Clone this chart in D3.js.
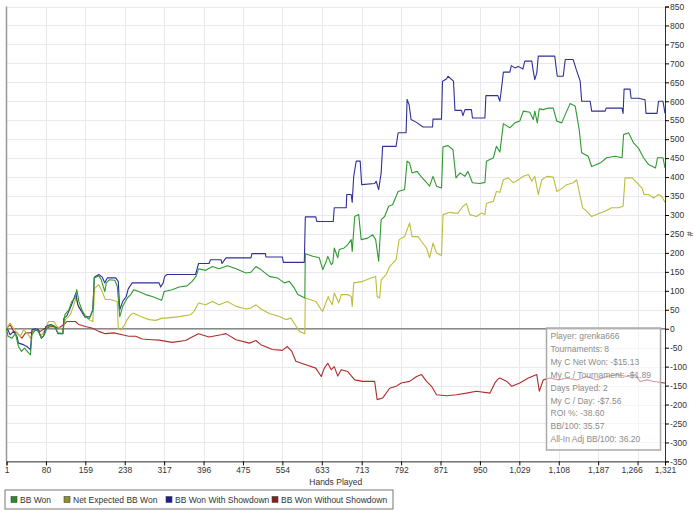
<!DOCTYPE html>
<meta charset="utf-8">
<script src="https://d3js.org/d3.v7.min.js"></script>
<style>
  body { margin: 0; background: #fff; }
  text { font-family: "Liberation Sans", Arial, sans-serif; }
</style>
<div id="my_dataviz"></div>
<script>

// x ticks (hands) and y ticks
var handTicks = [1, 80, 159, 238, 317, 396, 475, 554, 633, 713, 792, 871, 950, 1029, 1108, 1187, 1266, 1321];
var yTicks = d3.range(-350, 851, 50);

var seriesNames = ["BB Won", "Net Expected BB Won", "BB Won With Showdown", "BB Won Without Showdown"];

// [hand, bb]
var bbWon = [[1,0],[4,-20],[12,-25],[19,-13],[25,-47],[31,-60],[37,-51],[44,-62],[49,-69],[52,-16],[59,-3],[65,-7],[71,-25],[77,-16],[82,2],[91,11],[98,6],[104,-11],[114,-13],[118,37],[126,50],[132,72],[138,81],[142,103],[146,72],[152,50],[159,31],[167,26],[174,50],[177,134],[186,140],[191,129],[198,98],[201,121],[207,129],[218,128],[223,112],[228,32],[234,59],[243,81],[250,90],[256,103],[266,98],[280,90],[293,85],[307,78],[312,75],[317,98],[333,103],[347,110],[363,113],[373,125],[381,138],[386,158],[400,154],[414,164],[427,158],[444,166],[461,158],[481,147],[491,149],[501,164],[511,156],[528,138],[544,134],[558,121],[568,125],[578,107],[585,90],[595,84],[599,81],[600,198],[615,191],[628,187],[635,156],[642,178],[645,191],[652,169],[655,173],[658,213],[665,187],[668,209],[678,213],[685,222],[692,235],[694,204],[699,296],[707,301],[712,235],[725,239],[735,248],[741,235],[747,178],[752,288],[759,296],[767,323],[775,327],[786,362],[799,367],[804,442],[809,437],[814,411],[824,415],[833,400],[841,389],[849,376],[856,402],[863,376],[873,371],[876,480],[886,483],[896,472],[902,398],[910,411],[920,402],[926,415],[935,385],[950,383],[960,386],[963,442],[977,451],[983,481],[990,466],[997,541],[1010,530],[1020,543],[1030,548],[1037,574],[1050,571],[1057,552],[1060,574],[1065,543],[1069,580],[1077,578],[1087,582],[1097,582],[1104,548],[1114,543],[1124,574],[1131,594],[1141,587],[1149,525],[1154,464],[1167,455],[1174,428],[1191,437],[1204,451],[1221,455],[1235,451],[1238,512],[1248,517],[1258,490],[1268,476],[1278,451],[1288,433],[1302,424],[1306,451],[1317,451],[1321,424]];

var netExpected = [[1,0],[8,15],[15,2],[22,-11],[29,-20],[35,-3],[42,-11],[49,-25],[55,-3],[62,-3],[69,-20],[79,-3],[85,19],[96,19],[102,6],[114,-3],[119,24],[129,37],[136,63],[140,81],[146,55],[156,41],[166,24],[174,19],[178,107],[186,116],[193,98],[199,77],[209,77],[223,72],[225,0],[230,-3],[236,6],[243,24],[250,37],[256,41],[270,32],[287,24],[300,22],[313,28],[320,28],[347,32],[370,37],[377,46],[386,68],[400,63],[414,72],[427,63],[444,72],[461,59],[481,52],[491,55],[501,63],[511,52],[528,40],[548,32],[561,24],[571,28],[581,8],[588,-7],[599,-13],[600,81],[621,72],[632,50],[635,46],[642,72],[646,85],[648,77],[654,63],[658,94],[667,68],[672,90],[685,90],[692,85],[694,59],[697,121],[715,125],[732,134],[741,138],[744,85],[749,81],[752,129],[762,143],[769,164],[782,182],[788,235],[799,243],[809,279],[814,243],[826,243],[833,230],[843,213],[849,187],[856,226],[863,200],[873,193],[876,301],[890,307],[900,305],[906,305],[916,323],[923,330],[930,301],[943,296],[953,305],[960,301],[963,331],[977,336],[983,362],[990,360],[997,393],[1007,398],[1017,385],[1027,393],[1037,402],[1047,407],[1054,389],[1060,402],[1067,354],[1074,393],[1084,402],[1097,400],[1104,362],[1111,367],[1124,380],[1137,385],[1144,393],[1151,349],[1156,319],[1164,310],[1174,296],[1188,304],[1201,310],[1214,319],[1228,319],[1237,323],[1241,398],[1255,398],[1265,385],[1275,371],[1279,354],[1288,354],[1298,345],[1308,354],[1315,349],[1321,333]];

var withShowdown = [[1,0],[4,-3],[8,-16],[15,-7],[22,-20],[25,-38],[35,-42],[42,-47],[49,-55],[52,-3],[59,0],[65,-3],[71,-25],[75,-20],[80,6],[89,11],[98,6],[104,-13],[114,-13],[116,28],[122,34],[129,55],[134,72],[140,94],[144,63],[151,46],[158,31],[169,32],[174,50],[177,136],[186,143],[193,136],[198,121],[203,134],[220,134],[225,125],[228,50],[234,72],[241,85],[245,105],[253,121],[307,121],[310,110],[315,121],[318,138],[323,143],[380,143],[386,172],[407,172],[410,182],[431,182],[433,172],[441,187],[491,187],[493,198],[520,198],[521,189],[554,189],[556,175],[598,175],[600,295],[621,295],[623,283],[656,283],[658,319],[682,319],[683,354],[692,354],[694,333],[697,402],[702,442],[710,442],[713,380],[739,383],[742,389],[747,367],[752,411],[755,481],[782,481],[786,517],[802,517],[804,605],[808,591],[812,552],[822,545],[836,532],[855,532],[856,553],[873,553],[875,653],[883,659],[886,666],[897,653],[900,576],[913,576],[916,562],[920,578],[933,578],[935,556],[960,556],[962,615],[986,615],[990,600],[993,631],[997,677],[1010,677],[1013,694],[1020,688],[1027,692],[1036,685],[1040,706],[1054,706],[1057,679],[1060,657],[1064,675],[1067,719],[1100,719],[1105,666],[1117,666],[1121,710],[1137,710],[1143,684],[1151,653],[1154,600],[1171,600],[1174,574],[1201,574],[1203,582],[1235,582],[1237,568],[1239,632],[1251,632],[1253,608],[1268,608],[1281,604],[1283,568],[1305,568],[1308,600],[1317,600],[1321,568]];

var withoutShowdown = [[1,0],[8,11],[15,-7],[22,-11],[32,-25],[39,-11],[49,-11],[59,-3],[69,-7],[79,2],[92,6],[106,2],[116,11],[122,19],[139,19],[146,11],[159,6],[172,2],[186,-7],[199,-13],[216,-11],[233,-16],[246,-20],[260,-20],[273,-27],[293,-29],[307,-30],[333,-36],[360,-31],[373,-22],[386,-13],[407,-22],[431,-16],[441,-13],[461,-29],[488,-38],[501,-31],[511,-42],[534,-55],[554,-57],[564,-47],[573,-60],[581,-86],[601,-95],[621,-104],[632,-126],[638,-104],[645,-91],[652,-108],[658,-100],[665,-125],[672,-108],[685,-113],[699,-135],[715,-139],[739,-139],[744,-187],[755,-183],[769,-157],[782,-152],[792,-143],[809,-139],[823,-126],[833,-121],[843,-139],[853,-152],[863,-174],[883,-177],[903,-174],[923,-170],[943,-165],[970,-170],[980,-143],[986,-133],[990,-130],[1004,-139],[1014,-152],[1030,-143],[1047,-130],[1064,-121],[1069,-165],[1077,-135],[1090,-130],[1107,-135],[1124,-130],[1144,-135],[1164,-126],[1184,-135],[1204,-126],[1225,-121],[1245,-126],[1261,-121],[1271,-139],[1285,-135],[1298,-139],[1319,-143],[1321,-143]];

var statLines = ["Player: grenka666", "Tournaments: 8", "My C Net Won: -$15.13", "My C / Tournament: -$1.89",
                 "Days Played: 2", "My C / Day: -$7.56", "ROI %: -38.60", "BB/100: 35.57", "All-In Adj BB/100: 36.20"];

var lineColors = ["#2f9a2f", "#bdbd3a", "#30309a", "#b02c2c"];
var keyColors = ["#2a8a2a", "#8e8e2a", "#1c1c8a", "#8a1c1c"];

var W = 700, H = 514;
var plot = {left: 6.5, right: 665, top: 6.5, bottom: 461.4};

var svg = d3.select("#my_dataviz")
  .append("svg")
    .attr("width", W)
    .attr("height", H)
    .style("display", "block");

svg.append("rect").attr("width", W).attr("height", H).attr("fill", "#fff");

var x = d3.scaleLinear().domain([1, 1321]).range([plot.left, plot.right]);
var y = d3.scaleLinear().domain([-350, 850]).range([plot.bottom, plot.top]);

// grid
svg.append("g").selectAll("line").data(yTicks).enter().append("line")
    .attr("x1", plot.left).attr("x2", plot.right)
    .attr("y1", function(d) { return Math.round(y(d)) + 0.5; })
    .attr("y2", function(d) { return Math.round(y(d)) + 0.5; })
    .attr("stroke", "#e8e8ee");
svg.append("g").selectAll("line").data(handTicks.slice(1, -1)).enter().append("line")
    .attr("y1", plot.top).attr("y2", plot.bottom)
    .attr("x1", function(d) { return Math.round(x(d)) + 0.5; })
    .attr("x2", function(d) { return Math.round(x(d)) + 0.5; })
    .attr("stroke", "#e8e8ee");

// left border
svg.append("line")
    .attr("x1", plot.left).attr("x2", plot.left)
    .attr("y1", plot.top).attr("y2", plot.bottom)
    .attr("stroke", "#999").attr("stroke-width", 1.5);

// zero line
svg.append("line")
    .attr("x1", plot.left).attr("x2", plot.right)
    .attr("y1", y(0)).attr("y2", y(0))
    .attr("stroke", "#8a8a8a").attr("stroke-width", 1.6);

var line = d3.line()
    .x(function(d) { return x(d[0]); })
    .y(function(d) { return y(d[1]); });

var allSeries = [bbWon, netExpected, withShowdown, withoutShowdown];
var drawOrder = [3, 1, 2, 0];
drawOrder.forEach(function(i) {
  svg.append("path")
      .datum(allSeries[i])
      .attr("fill", "none")
      .attr("stroke", lineColors[i])
      .attr("stroke-width", 1.1)
      .attr("stroke-linejoin", "round")
      .attr("d", line);
});

// stats box
var box = svg.append("g").attr("transform", "translate(546.5,328)");
box.append("rect")
    .attr("width", 114).attr("height", 122)
    .attr("fill", "#fff").attr("fill-opacity", 0.55)
    .attr("stroke", "#aaa").attr("stroke-width", 1.5);
box.selectAll("text").data(statLines).enter().append("text")
    .attr("x", 4)
    .attr("y", function(d, i) { return 11 + i * 12.9; })
    .attr("fill", "#8c8c8c")
    .style("font-size", "8.5px")
    .text(function(d) { return d; });

// right axis
var yAxis = svg.append("g")
    .attr("transform", "translate(" + plot.right + ",0)")
    .call(d3.axisRight(y).tickValues(yTicks).tickSize(4).tickFormat(function(d) { return String(d); }));
yAxis.select(".domain").attr("stroke", "#333");
yAxis.selectAll("text").style("font-size", "8.5px").attr("fill", "#333").attr("x", 5);

svg.append("text")
    .attr("transform", "translate(693," + ((plot.top + plot.bottom) / 2) + ") rotate(-90)")
    .attr("text-anchor", "middle")
    .style("font-size", "8.5px")
    .attr("fill", "#333")
    .text("#");

// bottom axis
var xAxis = svg.append("g")
    .attr("transform", "translate(0," + plot.bottom + ")")
    .call(d3.axisBottom(x).tickValues(handTicks).tickSize(4).tickFormat(d3.format(",")));
xAxis.select(".domain").attr("stroke", "#333");
xAxis.selectAll("text").style("font-size", "8.5px").attr("fill", "#333").attr("y", 6)
    .attr("dx", function(d) { return d === 1266 ? -6 : 0; });

svg.append("text")
    .attr("x", (plot.left + plot.right) / 2)
    .attr("y", 485)
    .attr("text-anchor", "middle")
    .style("font-size", "8.5px")
    .attr("fill", "#333")
    .text("Hands Played");

// legend
var legend = svg.append("g").attr("transform", "translate(5,490)");
legend.append("rect")
    .attr("width", 388).attr("height", 19)
    .attr("fill", "#fff").attr("stroke", "#777");
var keyX = [6, 59, 161, 267];
legend.selectAll("g.key").data(seriesNames).enter().append("g")
    .attr("class", "key")
    .attr("transform", function(d, i) { return "translate(" + keyX[i] + ",0)"; })
    .each(function(d, i) {
      var g = d3.select(this);
      g.append("rect").attr("x", 0).attr("y", 6.5).attr("width", 6).attr("height", 6)
          .attr("fill", keyColors[i]).attr("stroke", "#444").attr("stroke-width", 0.6);
      g.append("text").attr("x", 9).attr("y", 12.5)
          .style("font-size", "8.5px").attr("fill", "#333").text(d);
    });

</script>
